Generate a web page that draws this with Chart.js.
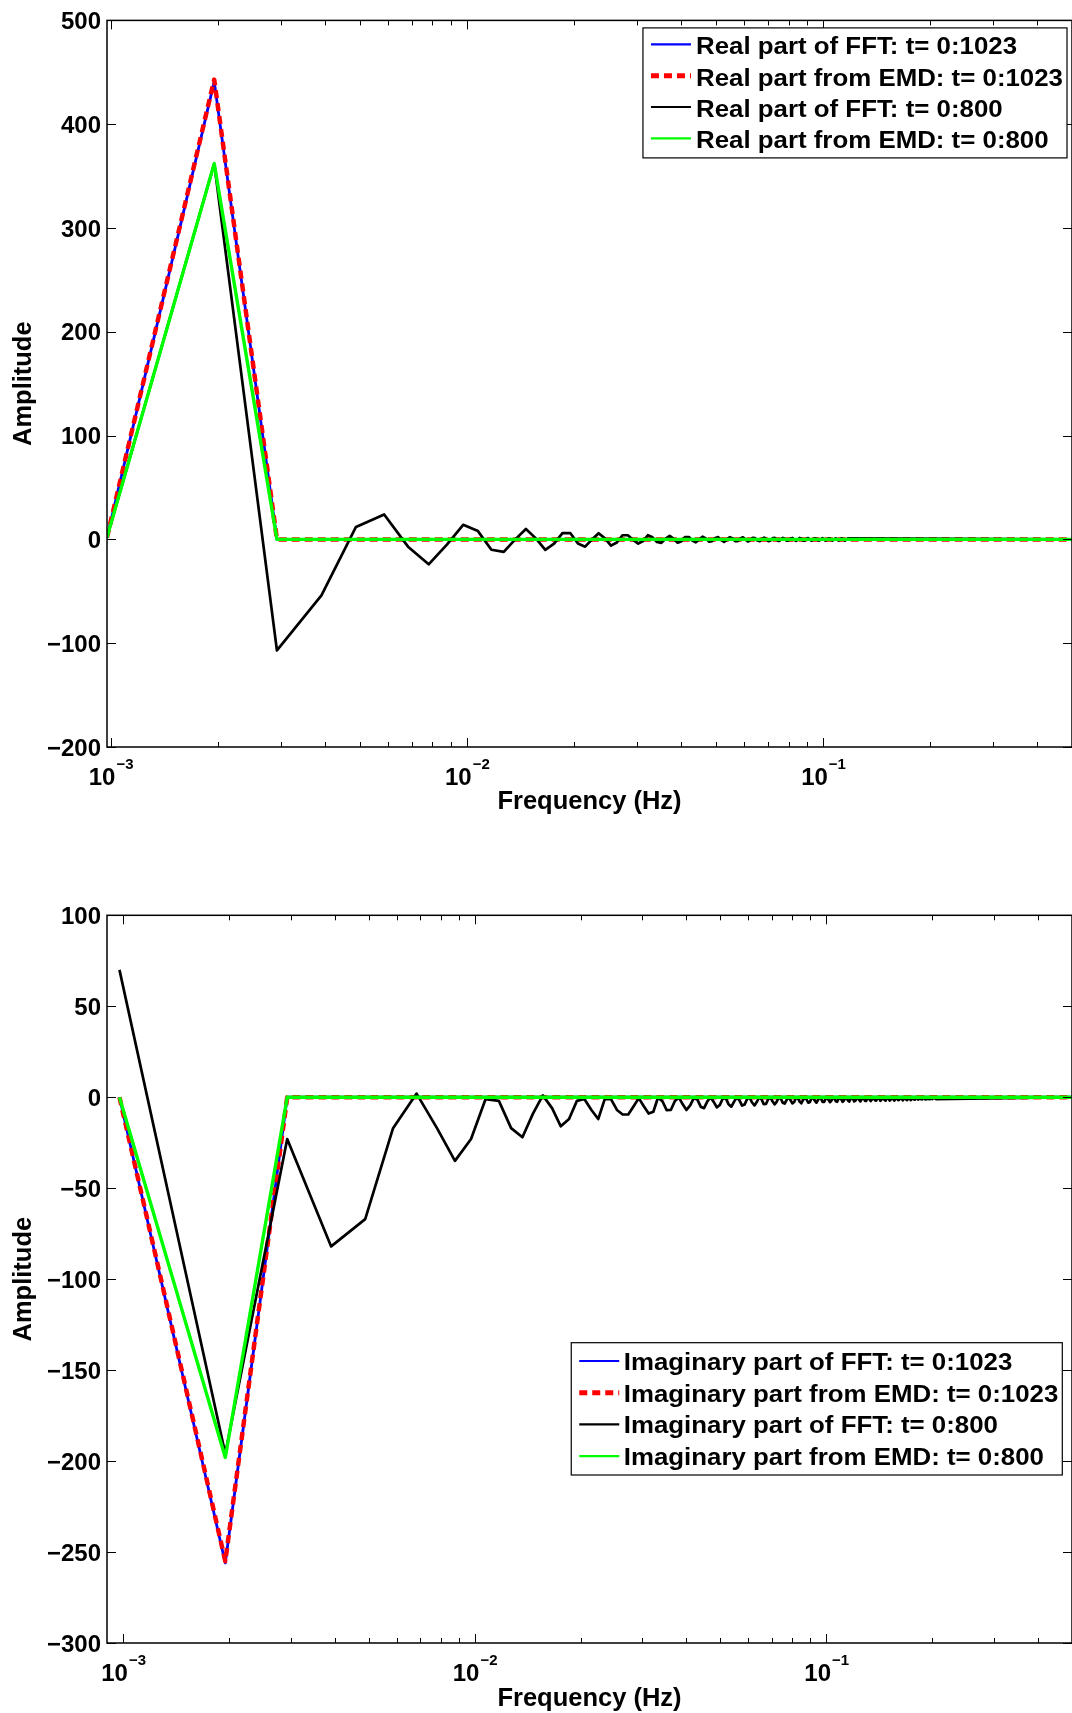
<!DOCTYPE html>
<html><head><meta charset="utf-8">
<script src="https://cdn.jsdelivr.net/npm/chart.js@4.4.0/dist/chart.umd.min.js"></script>
<style>
html,body{margin:0;padding:0;background:#fff;overflow:hidden;width:1072px;height:1713px;}
#w1{position:absolute;left:0;top:0;}
#w2{position:absolute;left:0;top:860px;}
canvas{display:block;}
</style></head><body>
<div id="w1"><canvas id="c1" width="1072" height="830"></canvas></div>
<div id="w2"><canvas id="c2" width="1072" height="853"></canvas></div>
<script>
// ---------------- data ----------------
const FFT_LENGTH = 1024;     // bin k sits at k / FFT_LENGTH Hz
const NYQUIST_BIN = 512;     // last plotted bin (0.5 Hz)
const TAIL_VALUE = 0;        // all curves lie on 0 up to the Nyquist bin

// Top panel (real part), values for bins 1, 2, 3, ...
const realFFT1023 = [2, 441, 0];
const realEMD1023 = [2, 443, 0];
const realFFT800 = [
  2, 362, -107, -54, 12, 24, -7, -24, -5, 14,
  8, -10, -12, 0, 10, 1, -10, -4, 6, 6,
  -4, -7, 0, 6, 1, -6, -3, 4, 4, -0.5,
  -4, -1.5, 4, 2, -2.5, -3.3, 0.8, 3.4, 0.5, -3.2,
  -1.7, 2.3, 2.3, -1.1, -2.8, 0, 2.6, 1, -2.2, -1.7,
  1.4, 2.2, -0.5, -2.3, -0.4, 2.1, 1.2, -1.6, -1.7, 0.9,
  2, 0, -2, -0.7, 1.6, 1.3, -1.1, -1.7, 0.4, 1.8,
  0.3, -1.7, -1, 1.3, 1.4, -0.7, -1.6, 0, 1.5, 0.6,
  -1.3, -1, 0.9, 1.4, -0.3, -1.5, -0.2, 1.4, 0.8, -1.1,
  -1.1, 0.6, 1.3, 0, -1.3, -0.5, 1.1, 0.9, -0.8, -1.1,
  0.3, 1.2, 0.2, -1.1, -0.6, 0.9, 0.9, -0.5, -1.1, 0.1,
  1.1, 0.4, -1, -0.7, 0.7, 1, -0.3, -1.1, -0.2, 1
];
const realEMD800 = [2, 362, 0];

// Bottom panel (imaginary part)
const imagFFT1023 = [0, -256, 0];
const imagEMD1023 = [0, -255, 0];
const imagFFT800 = [
  70, -196, -23, -82, -67, -17, 2, -17, -35, -23,
  -1, -2, -17, -22, -9, 1, -6, -16, -12, -2,
  -1, -7, -12, -1, -1, -7, -9.5, -9.5, -5, -0.5,
  -5, -9, -8, -0.3, -2.1, -7.1, -7, -2.1, -0.1, -3.9,
  -7, -4.5, -0.5, -1.2, -5.2, -6, -2.3, 0, -2.6, -5.6,
  -4.3, -0.7, -0.5, -3.8, -5.2, -2.4, 0, -1.7, -4.6, -4,
  -0.9, -0.3, -2.9, -4.5, -2.5, -0.1, -1.1, -3.8, -3.7, -1.1,
  -0.1, -2.2, -3.9, -2.5, -0.2, -0.7, -3, -3.5, -1.4, 0,
  -1.6, -3.4, -2.6, -0.4, -0.4, -2.4, -3.3, -1.5, 0, -1.2,
  -3, -2.6, -0.6, -0.2, -1.9, -3, -1.6, -0.1, -0.8, -2.6,
  -2.6, -0.7, -0.1, -1.5, -2.7, -1.7, -0.2, -0.5, -2.2, -2.5,
  -0.9, 0, -1.2, -2.5, -1.8, -0.3, -0.3, -1.8, -2.4, -1.1,
  0, -0.8, -2.3, -1.9, -0.5, -0.1, -1.4, -2.3, -1.3, 0,
  -0.6, -2, -2, -0.6, 0, -1.2, -2.1, -1.3, -0.1, -0.4,
  -1.7, -1.9, -0.7, 0, -0.9, -2, -1.4, -0.2, -0.3, -1.5,
  -1.9, -0.9, 0, -0.7, -1.8, -1.5, -0.4, -0.1, -1.2, -1.8,
  -1, 0, -0.5, -1.6, -1.5, -0.5, 0, -1, -1.7, -1.1,
  -0.1, -0.3, -1.4, -1.6, -0.6, 0, -0.8, -1.6, -1.2, -0.2,
  -0.3, -1.2, -1.3, -0.4, 0, -0.8, -1.3, -0.9, -0.1, -0.3,
  -1.1, -1.2, -0.5, 0, -0.6, -1.2, -1, -0.2, -0.2, -0.9,
  -1.1, -0.6, 0, -0.4, -1, -1, -0.3, -0.1, -0.7, -1
];
const imagEMD800 = [0, -198, 0];

const realLabels = [
  'Real part of FFT: t= 0:1023',
  'Real part from EMD: t= 0:1023',
  'Real part of FFT: t= 0:800',
  'Real part from EMD: t= 0:800'
];
const imagLabels = [
  'Imaginary part of FFT: t= 0:1023',
  'Imaginary part from EMD: t= 0:1023',
  'Imaginary part of FFT: t= 0:800',
  'Imaginary part from EMD: t= 0:800'
];

// axes
const xMajorTicks = [0.001, 0.01, 0.1];
const xMajorBase = ['10', '10', '10'];
const xMajorExp = ['\u22123', '\u22122', '\u22121'];
const xMinorFactors = [2, 3, 4, 5, 6, 7, 8, 9];
const topXMin = 1 / 1024, bottomXMin = 0.0009, xMax = 0.5;
const topYMin = -200, topYMax = 500, topYStep = 100;
const botYMin = -300, botYMax = 100, botYStep = 50;

// ---------------- helpers ----------------
const FONT = '"Liberation Sans", Arial, Helvetica, sans-serif';
function toPoints(vals) {
  const p = vals.map((v, i) => ({ x: (i + 1) / FFT_LENGTH, y: v }));
  p.push({ x: NYQUIST_BIN / FFT_LENGTH, y: TAIL_VALUE });
  return p;
}
function minusFmt(v) { return v < 0 ? '\u2212' + Math.abs(v) : String(v); }

const axesPlugin = {
  id: 'matlabAxes',
  afterDatasetsDraw(chart, args, opts) {
    const { ctx, chartArea: a } = chart;
    const x = chart.scales.x, y = chart.scales.y;
    const MAJ = 9, MIN = 5;
    ctx.save();
    ctx.strokeStyle = '#000';
    ctx.lineWidth = 1;
    const seg = (x1, y1, x2, y2) => { ctx.beginPath(); ctx.moveTo(x1, y1); ctx.lineTo(x2, y2); ctx.stroke(); };
    y.ticks.forEach(t => {
      const py = Math.round(y.getPixelForValue(t.value)) + 0.5;
      seg(a.left, py, a.left + MAJ, py);
      seg(a.right, py, a.right - MAJ, py);
    });
    xMajorTicks.forEach(dec => {
      [1].concat(xMinorFactors).forEach(m => {
        const v = dec * m;
        if (v < x.min || v > x.max) return;
        const px = Math.round(x.getPixelForValue(v)) + 0.5;
        const len = m === 1 ? MAJ : MIN;
        seg(px, a.bottom, px, a.bottom - len);
        seg(px, a.top, px, a.top + len);
      });
    });
    ctx.lineWidth = 1.5;
    ctx.strokeRect(a.left, a.top, a.right - a.left, a.bottom - a.top);
    // x tick labels with superscript exponents
    ctx.fillStyle = '#000';
    ctx.textBaseline = 'alphabetic';
    ctx.textAlign = 'left';
    xMajorTicks.forEach((v, i) => {
      if (v < x.min || v > x.max) return;
      const px = x.getPixelForValue(v);
      ctx.font = 'bold 24px ' + FONT;
      const wb = ctx.measureText(xMajorBase[i]).width;
      ctx.font = 'bold 15px ' + FONT;
      const we = ctx.measureText(xMajorExp[i]).width;
      const x0 = px - (wb + we) / 2;
      const by = a.bottom + opts.labelDrop;
      ctx.font = 'bold 24px ' + FONT;
      ctx.fillText(xMajorBase[i], x0, by);
      ctx.font = 'bold 15px ' + FONT;
      ctx.fillText(xMajorExp[i], x0 + wb + 1, by - opts.expRise);
    });
    ctx.restore();
  }
};

const legendPlugin = {
  id: 'boxLegend',
  afterDraw(chart, args, o) {
    const { ctx, chartArea: a } = chart;
    ctx.save();
    ctx.font = 'bold ' + o.fontSize + 'px ' + FONT;
    const ds = chart.data.datasets;
    const maxW = Math.max(...ds.map(d => ctx.measureText(d.label).width)) * o.stretch;
    const w = o.padL + o.sample + o.gap + maxW + o.padR;
    const right = a.right - o.insetRight;
    const left = right - w;
    const top = (o.insetTop != null) ? a.top + o.insetTop : a.bottom - o.insetBottom - o.height;
    ctx.fillStyle = '#fff';
    ctx.fillRect(left, top, w, o.height);
    ctx.strokeStyle = '#000';
    ctx.lineWidth = 1.2;
    ctx.strokeRect(left, top, w, o.height);
    ds.forEach((d, i) => {
      const ry = top + o.firstRow + i * o.rowGap;
      ctx.beginPath();
      ctx.strokeStyle = d.borderColor;
      ctx.lineWidth = d.legendWidth || d.borderWidth;
      ctx.setLineDash(d.borderDash || []);
      ctx.moveTo(left + o.padL, ry);
      ctx.lineTo(left + o.padL + o.sample, ry);
      ctx.stroke();
      ctx.setLineDash([]);
      ctx.fillStyle = '#000';
      ctx.textAlign = 'left';
      ctx.textBaseline = 'alphabetic';
      ctx.save();
      ctx.translate(left + o.padL + o.sample + o.gap, ry + o.textDrop);
      ctx.scale(o.stretch, 1);
      ctx.fillText(d.label, 0, 0);
      ctx.restore();
    });
    ctx.restore();
  }
};

function makeDatasets(labels, s1, s2, s3, s4) {
  return [
    { label: labels[0], data: toPoints(s1), borderColor: '#0000ff', borderWidth: 2.8, legendWidth: 2.2, order: 4 },
    { label: labels[1], data: toPoints(s2), borderColor: '#ff0000', borderWidth: 4.5, legendWidth: 5, borderDash: [8, 5], order: 3 },
    { label: labels[2], data: toPoints(s3), borderColor: '#000000', borderWidth: 2.7, legendWidth: 2.2, order: 2 },
    { label: labels[3], data: toPoints(s4), borderColor: '#00ff00', borderWidth: 3.4, legendWidth: 2.2, order: 1 }
  ].map(d => Object.assign(d, { pointRadius: 0, tension: 0, fill: false, borderJoinStyle: 'round' }));
}

function makeChart(id, cfg) {
  const tickFont = { family: FONT, size: 24, weight: 'bold' };
  const titleFont = { family: FONT, size: 25.5, weight: 'bold' };
  return new Chart(document.getElementById(id), {
    type: 'line',
    data: { datasets: cfg.datasets },
    plugins: [axesPlugin, legendPlugin],
    options: {
      responsive: false,
      animation: false,
      devicePixelRatio: 1,
      layout: { padding: { top: cfg.padTop, left: 0, right: 0, bottom: 0 } },
      plugins: {
        legend: { display: false },
        tooltip: { enabled: false },
        matlabAxes: { labelDrop: cfg.labelDrop, expRise: cfg.expRise },
        boxLegend: cfg.legend
      },
      scales: {
        x: {
          type: 'logarithmic', position: 'bottom',
          min: cfg.xMin, max: xMax,
          ticks: { display: false },
          grid: { display: false, drawTicks: false },
          border: { display: false },
          title: { display: true, text: 'Frequency (Hz)', color: '#000', font: titleFont, padding: { top: cfg.xTitlePad, bottom: cfg.xTitlePad } },
          afterFit: s => { s.height = cfg.xHeight; }
        },
        y: {
          type: 'linear', position: 'left',
          min: cfg.yMin, max: cfg.yMax,
          ticks: { stepSize: cfg.yStep, color: '#000', font: tickFont, padding: 6, labelOffset: 2, callback: v => minusFmt(v) },
          grid: { display: false, drawTicks: false },
          border: { display: false },
          title: { display: true, text: 'Amplitude', color: '#000', font: titleFont, padding: { top: 9, bottom: 9 } },
          afterFit: s => { s.width = 107; }
        }
      }
    }
  });
}

makeChart('c1', {
  datasets: makeDatasets(realLabels, realFFT1023, realEMD1023, realFFT800, realEMD800),
  xMin: topXMin, yMin: topYMin, yMax: topYMax, yStep: topYStep,
  padTop: 19.5, xHeight: 83, xTitlePad: 12.5, labelDrop: 38, expRise: 16.5,
  legend: { fontSize: 23.5, stretch: 1.1, padL: 8, sample: 40, gap: 5, padR: 4,
            insetRight: 5, insetTop: 7.5, height: 130, firstRow: 16.5, rowGap: 31.3, textDrop: 10 }
});
makeChart('c2', {
  datasets: makeDatasets(imagLabels, imagFFT1023, imagEMD1023, imagFFT800, imagEMD800),
  xMin: bottomXMin, yMin: botYMin, yMax: botYMax, yStep: botYStep,
  padTop: 55.3, xHeight: 70, xTitlePad: -1, labelDrop: 37.5, expRise: 16,
  legend: { fontSize: 23.5, stretch: 1.1, padL: 8, sample: 40, gap: 4.5, padR: 4,
            insetRight: 9.7, insetBottom: 168, height: 132.3, firstRow: 18.3, rowGap: 31.7, textDrop: 9 }
});
</script>
</body></html>
